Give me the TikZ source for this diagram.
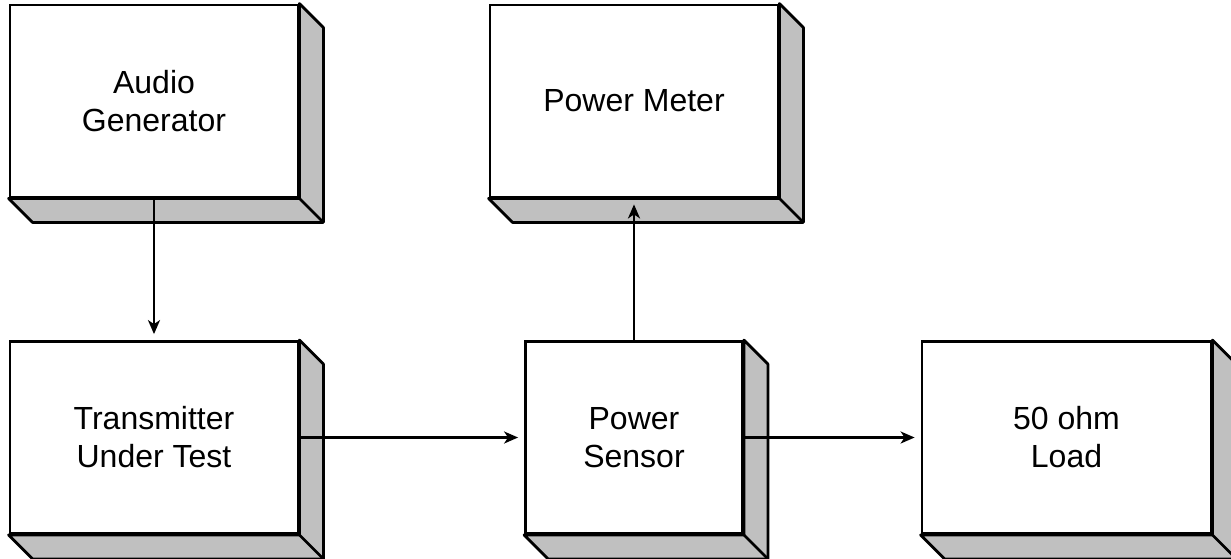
\documentclass[tikz,border=0pt]{standalone}
\usepackage{fontspec}
\setmainfont{Liberation Sans}
\usetikzlibrary{arrows.meta}
\definecolor{sidegray}{HTML}{C0C0C0}
\tikzset{
  unit/.style={draw, line width=1.4pt, fill=white, inner sep=0pt, align=center,
    minimum width=144pt, minimum height=96pt, font=\fontsize{16}{19}\selectfont},
  side/.style={draw, line width=1.4pt, fill=sidegray, line join=round},
  sig/.style={line width=1.2pt, -{Stealth[length=7pt,width=6pt,inset=2pt]}, shorten >=3pt}
}
\begin{document}
\begin{tikzpicture}[x=0.5pt,y=-0.5pt]
    \useasboundingbox (0,0) rectangle (1231,558);
    \clip (0,0) rectangle (1231,558);
    \node[unit] (gen) at (154,101) {Audio\\Generator};
    \node[unit] (tx) at (154,437.5) {Transmitter\\Under Test};
    \node[unit] (meter) at (634,101) {Power Meter};
    \node[unit, minimum width=108.5pt] (sensor) at (634,437.5) {Power\\Sensor};
    \node[unit, minimum width=144.5pt] (load) at (1066.5,437.5) {50 ohm\\Load};
    % depth faces
    \foreach \n in {gen,tx,meter,sensor,load}{
        \draw[side] (\n.north east) -- ++(12pt,-12pt)
            -- ([shift={(12pt,-12pt)}]\n.south east)
            -- ([shift={(12pt,-12pt)}]\n.south west)
            -- (\n.south west) -- (\n.south east) -- cycle;
        \draw[line width=1.4pt] (\n.south east) -- ++(12pt,-12pt);
    }
    \draw[sig] (gen) -- (tx);
    \draw[sig] (tx) -- (sensor);
    \draw[sig] (sensor) -- (meter);
    \draw[sig] (sensor) -- (load);
\end{tikzpicture}
\end{document}
